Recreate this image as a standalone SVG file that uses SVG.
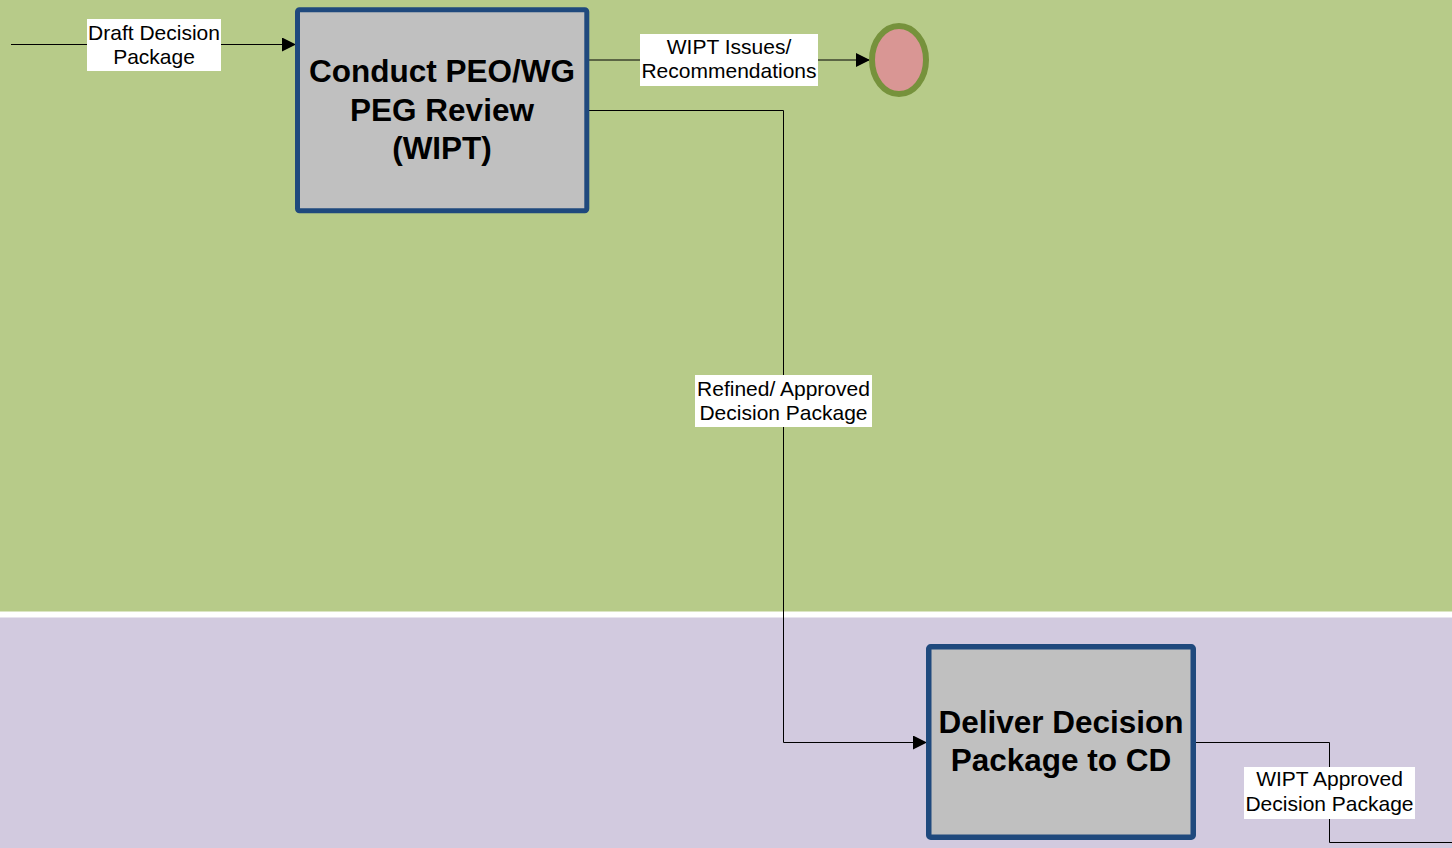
<svg xmlns="http://www.w3.org/2000/svg" width="1452" height="848" viewBox="0 0 1452 848">
<defs>
<style>
.lane-a{fill:#b7cb89}
.lane-b{fill:#d2cadf}
.box{fill:#c0c0c0;stroke:#1f497d;stroke-width:5}
.boxtext{font-family:"Liberation Sans",Arial,sans-serif;font-weight:bold;font-size:31.5px;fill:#000;text-anchor:middle}
.conn{fill:none;stroke:#000;stroke-width:1}
.lblbg{fill:#fff}
.lbl{font-family:"Liberation Sans",Arial,sans-serif;font-size:21px;fill:#000;text-anchor:middle}
</style>
<marker id="arr" markerWidth="14" markerHeight="14" refX="14" refY="7" orient="auto" markerUnits="userSpaceOnUse">
<path d="M0,0 L14,7 L0,14 Z" fill="#000"/>
</marker>
</defs>
<rect width="1452" height="848" fill="#fff"/>
<rect class="lane-a" x="0" y="0" width="1452" height="611.5"/>
<rect class="lane-b" x="0" y="617.5" width="1452" height="231"/>

<g id="connectors">
<path class="conn" d="M11,44.5 H296" marker-end="url(#arr)"/>
<path class="conn" d="M589,60 H870" marker-end="url(#arr)"/>
<path class="conn" d="M589,110.5 H783.5 V742.5 H927" marker-end="url(#arr)"/>
<path class="conn" d="M1196,742.5 H1329.5 V842.5 H1452"/>
<g id="lbl-draft">
<rect class="lblbg" x="87" y="19" width="134" height="52"/>
<text class="lbl" x="154" y="39.5">Draft Decision</text>
<text class="lbl" x="154" y="63.5">Package</text>
</g>
<g id="lbl-issues">
<rect class="lblbg" x="640" y="34" width="178" height="52"/>
<text class="lbl" x="729" y="53.5">WIPT Issues/</text>
<text class="lbl" x="729" y="77.5">Recommendations</text>
</g>
<g id="lbl-refined">
<rect class="lblbg" x="695" y="375" width="177" height="52"/>
<text class="lbl" x="783.5" y="395.5">Refined/ Approved</text>
<text class="lbl" x="783.5" y="419.5">Decision Package</text>
</g>
<g id="lbl-approved">
<rect class="lblbg" x="1244" y="767" width="171" height="52"/>
<text class="lbl" x="1329.5" y="786">WIPT Approved</text>
<text class="lbl" x="1329.5" y="811">Decision Package</text>
</g>
</g>

<g id="node-review">
<rect class="box" x="297.5" y="9.8" width="289.3" height="201" rx="2"/>
<text class="boxtext" x="442" y="82">Conduct PEO/WG</text>
<text class="boxtext" x="442" y="120.5">PEG Review</text>
<text class="boxtext" x="442" y="159">(WIPT)</text>
</g>

<g id="node-end">
<ellipse cx="899" cy="60" rx="27" ry="34" fill="#d99694" stroke="#76923c" stroke-width="6"/>
</g>

<g id="node-deliver">
<rect class="box" x="928.75" y="646.75" width="264.5" height="190.5" rx="2" style="stroke-width:5.5"/>
<text class="boxtext" x="1061" y="733">Deliver Decision</text>
<text class="boxtext" x="1061" y="771">Package to CD</text>
</g>
</svg>
